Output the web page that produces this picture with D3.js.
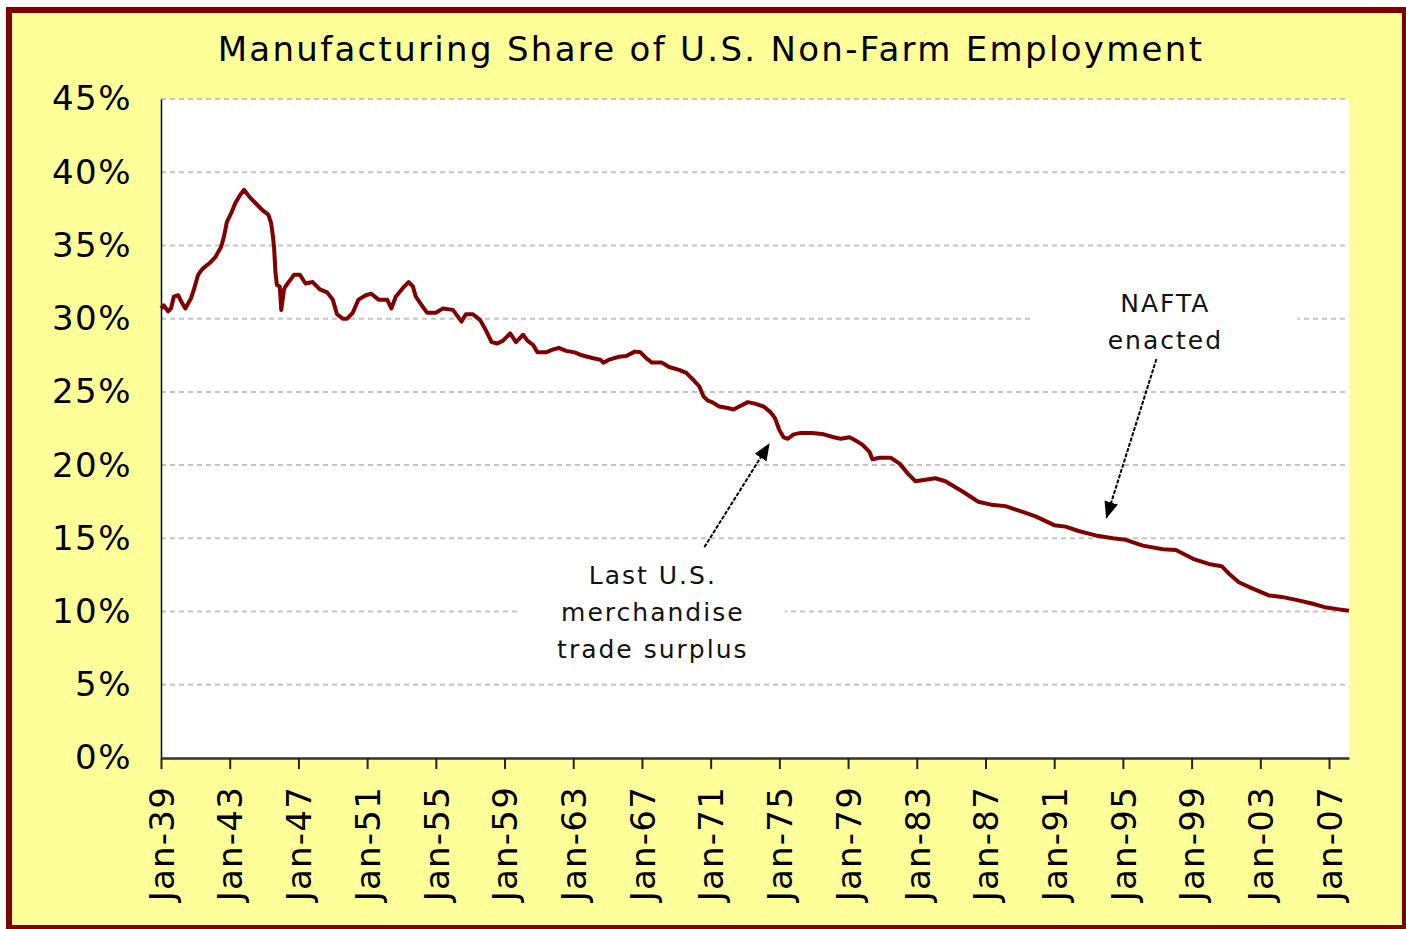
<!DOCTYPE html>
<html>
<head>
<meta charset="utf-8">
<title>Manufacturing Share of U.S. Non-Farm Employment</title>
<style>
body { margin: 0; background: #fff; }
text { font-family: "DejaVu Sans", Verdana, sans-serif; fill: #000; }
.grid line { stroke: #c4c4c4; stroke-width: 2; stroke-dasharray: 5,4; }
.note { font-size: 25px; letter-spacing: 2px; fill: #111; }
</style>
</head>
<body>
<script src="https://d3js.org/d3.v7.min.js"></script>
<script>

// values (percent of non-farm jobs)
var months = ["1939-01","1939-03","1939-06","1939-08","1939-10","1940-01","1940-03","1940-06","1940-10","1940-12",
  "1941-03","1941-06","1941-11","1942-03","1942-07","1942-09","1942-11","1943-02","1943-05","1943-08",
  "1943-11","1944-03","1944-07","1944-12","1945-04","1945-06","1945-07","1945-08","1945-09","1945-10",
  "1945-12","1946-01","1946-03","1946-04","1946-07","1946-10","1947-02","1947-06","1947-11","1948-04",
  "1948-09","1949-01","1949-04","1949-08","1949-11","1950-03","1950-07","1950-12","1951-04","1951-09",
  "1952-03","1952-06","1952-09","1953-02","1953-06","1953-09","1953-11","1954-04","1954-07","1955-01",
  "1955-06","1956-01","1956-07","1956-10","1957-03","1957-08","1957-12","1958-04","1958-08","1958-12",
  "1959-05","1959-09","1960-02","1960-05","1960-09","1960-12","1961-06","1961-11","1962-03","1962-08",
  "1963-02","1963-07","1964-03","1964-08","1964-10","1965-02","1965-09","1966-02","1966-08","1966-12",
  "1967-04","1967-08","1968-03","1968-08","1969-03","1969-08","1969-12","1970-05","1970-08","1970-11",
  "1971-02","1971-07","1972-01","1972-05","1972-09","1973-03","1973-08","1974-02","1974-07","1974-10",
  "1975-01","1975-04","1975-07","1975-11","1976-04","1976-12","1977-08","1978-03","1978-08","1979-02",
  "1979-06","1979-11","1980-04","1980-06","1980-11","1981-07","1982-01","1982-07","1982-12","1983-07",
  "1984-02","1984-09","1985-09","1986-08","1987-05","1988-03","1989-03","1989-12","1991-01","1991-09",
  "1992-06","1993-06","1994-06","1995-03","1996-03","1997-05","1998-02","1999-02","2000-01","2000-10",
  "2001-03","2001-10","2002-07","2003-07","2004-04","2005-02","2006-01","2006-10","2007-08","2008-03"];

var share = [30.7,30.9,30.5,30.7,31.5,31.6,31.2,30.7,31.4,32.0,
  33.0,33.4,33.8,34.2,34.9,35.6,36.6,37.2,37.9,38.4,
  38.8,38.3,37.9,37.4,37.1,36.5,35.8,34.9,33.1,32.3,
  32.2,30.6,32.0,32.2,32.6,33.0,33.0,32.4,32.5,32.0,
  31.8,31.3,30.3,30.0,30.0,30.4,31.3,31.6,31.7,31.3,
  31.3,30.7,31.5,32.1,32.5,32.2,31.5,30.8,30.4,30.4,
  30.7,30.6,29.8,30.3,30.3,29.9,29.2,28.4,28.3,28.5,
  29.0,28.4,28.9,28.5,28.2,27.7,27.7,27.9,28.0,27.8,
  27.7,27.5,27.3,27.2,27.0,27.2,27.4,27.45,27.75,27.7,
  27.3,27.0,27.0,26.7,26.5,26.3,25.9,25.4,24.7,24.4,
  24.3,24.0,23.9,23.8,24.0,24.3,24.2,24.0,23.6,23.2,
  22.4,21.9,21.8,22.1,22.2,22.2,22.1,21.9,21.8,21.9,
  21.7,21.4,20.9,20.4,20.5,20.5,20.1,19.4,18.9,19.0,
  19.1,18.9,18.2,17.5,17.3,17.2,16.8,16.5,15.9,15.8,
  15.5,15.2,15.0,14.9,14.5,14.25,14.2,13.6,13.25,13.1,
  12.6,12.0,11.6,11.1,11.0,10.8,10.55,10.3,10.15,10.05];

var yTicks = [0, 5, 10, 15, 20, 25, 30, 35, 40, 45];
var xTickYears = [1939, 1943, 1947, 1951, 1955, 1959, 1963, 1967, 1971, 1975,
  1979, 1983, 1987, 1991, 1995, 1999, 2003, 2007];
var titleText = "Manufacturing Share of U.S. Non-Farm Employment";
var surplusNote = ["Last U.S.", "merchandise", "trade surplus"];
var naftaNote = ["NAFTA", "enacted"];

var width = 1406, height = 929;
var plot = {left: 161, top: 99, right: 1349, bottom: 758};

var parseMonth = d3.timeParse("%Y-%m");
var data = months.map(function(m, i) { return {date: parseMonth(m), value: share[i]}; });

var svg = d3.select("body").append("svg")
  .attr("width", width)
  .attr("height", height);

// yellow chart area with dark red frame
svg.append("rect")
  .attr("x", 9).attr("y", 10)
  .attr("width", 1396).attr("height", 918)
  .attr("fill", "#ffff99")
  .attr("stroke", "#800000")
  .attr("stroke-width", 6);

svg.append("rect")
  .attr("x", plot.left).attr("y", plot.top)
  .attr("width", plot.right - plot.left)
  .attr("height", plot.bottom - plot.top)
  .attr("fill", "#fff");

var x = d3.scaleTime()
  .domain([new Date(1939, 0, 1), new Date(2008, 2, 1)])
  .range([plot.left, plot.right]);

var y = d3.scaleLinear()
  .domain([0, 45])
  .range([plot.bottom, plot.top]);

// gridlines
svg.append("g")
  .attr("class", "grid")
  .selectAll("line")
  .data(yTicks.filter(function(d) { return d > 0; }))
  .enter().append("line")
  .attr("x1", plot.left).attr("x2", plot.right)
  .attr("y1", function(d) { return y(d); })
  .attr("y2", function(d) { return y(d); });

// y axis labels, no tick marks
var yAxis = svg.append("g")
  .attr("transform", "translate(" + plot.left + ",0)")
  .call(d3.axisLeft(y).tickValues(yTicks).tickSize(0).tickPadding(29)
    .tickFormat(function(d) { return d + "%"; }));
yAxis.select(".domain").attr("stroke", "#000").attr("stroke-width", 1.5);
yAxis.selectAll("text")
  .attr("font-family", null)
  .style("font-size", "34px")
  .style("letter-spacing", "1.5px")
  .attr("fill", "#222");

// x axis
var xAxis = svg.append("g")
  .attr("transform", "translate(0," + plot.bottom + ")")
  .call(d3.axisBottom(x)
    .tickValues(xTickYears.map(function(yr) { return new Date(yr, 0, 1); }))
    .tickSize(11)
    .tickSizeOuter(0)
    .tickFormat(d3.timeFormat("%b-%y")));
xAxis.select(".domain").attr("stroke", "#333").attr("stroke-width", 2.5);
xAxis.selectAll(".tick line").attr("stroke", "#222").attr("stroke-width", 2);
xAxis.selectAll("text")
  .attr("font-family", null)
  .style("font-size", "34px")
  .style("letter-spacing", "1.2px")
  .attr("fill", "#222")
  .attr("text-anchor", "end")
  .attr("transform", "rotate(-90)")
  .attr("x", -28)
  .attr("y", 0)
  .attr("dy", "0.36em");

// title
svg.append("text")
  .attr("x", 711)
  .attr("y", 61)
  .attr("text-anchor", "middle")
  .style("font-size", "34px")
  .style("letter-spacing", "2.3px")
  .text(titleText);

// the series
var line = d3.line()
  .x(function(d) { return x(d.date); })
  .y(function(d) { return y(d.value); });

svg.append("path")
  .datum(data)
  .attr("fill", "none")
  .attr("stroke", "#800000")
  .attr("stroke-width", 4)
  .attr("stroke-linejoin", "round")
  .attr("d", line);

// arrow head
svg.append("defs").append("marker")
  .attr("id", "head")
  .attr("viewBox", "0 0 10 10")
  .attr("refX", 9).attr("refY", 5)
  .attr("markerWidth", 17).attr("markerHeight", 14)
  .attr("markerUnits", "userSpaceOnUse")
  .attr("orient", "auto")
  .attr("preserveAspectRatio", "none")
  .append("path")
  .attr("d", "M0,0L10,5L0,10Z")
  .attr("fill", "#000");

function note(lines, cx, cy, boxW, boxH, tail, tip) {
  var g = svg.append("g");
  g.append("rect")
    .attr("x", x(cx) - boxW / 2)
    .attr("y", y(cy) - boxH / 2)
    .attr("width", boxW).attr("height", boxH)
    .attr("fill", "#fff");
  var lineH = 37;
  g.selectAll("text")
    .data(lines)
    .enter().append("text")
    .attr("class", "note")
    .attr("text-anchor", "middle")
    .attr("x", x(cx) + 1)
    .attr("y", function(d, i) { return y(cy) - (lines.length - 1) * lineH / 2 + i * lineH + 9; })
    .text(function(d) { return d; });
  svg.append("line")
    .attr("x1", x(tail[0])).attr("y1", y(tail[1]))
    .attr("x2", x(tip[0])).attr("y2", y(tip[1]))
    .attr("stroke", "#000")
    .attr("stroke-width", 2)
    .attr("stroke-dasharray", "4,1.5")
    .attr("marker-end", "url(#head)");
}

note(naftaNote, new Date(1997, 5, 1), 29.84, 266, 78,
  [new Date(1996, 11, 15), 27.25], [new Date(1994, 0, 20), 16.45]);
note(surplusNote, new Date(1967, 6, 30), 9.94, 266, 118,
  [new Date(1970, 7, 20), 14.4], [new Date(1974, 4, 20), 21.4]);

</script>
</body>
</html>
